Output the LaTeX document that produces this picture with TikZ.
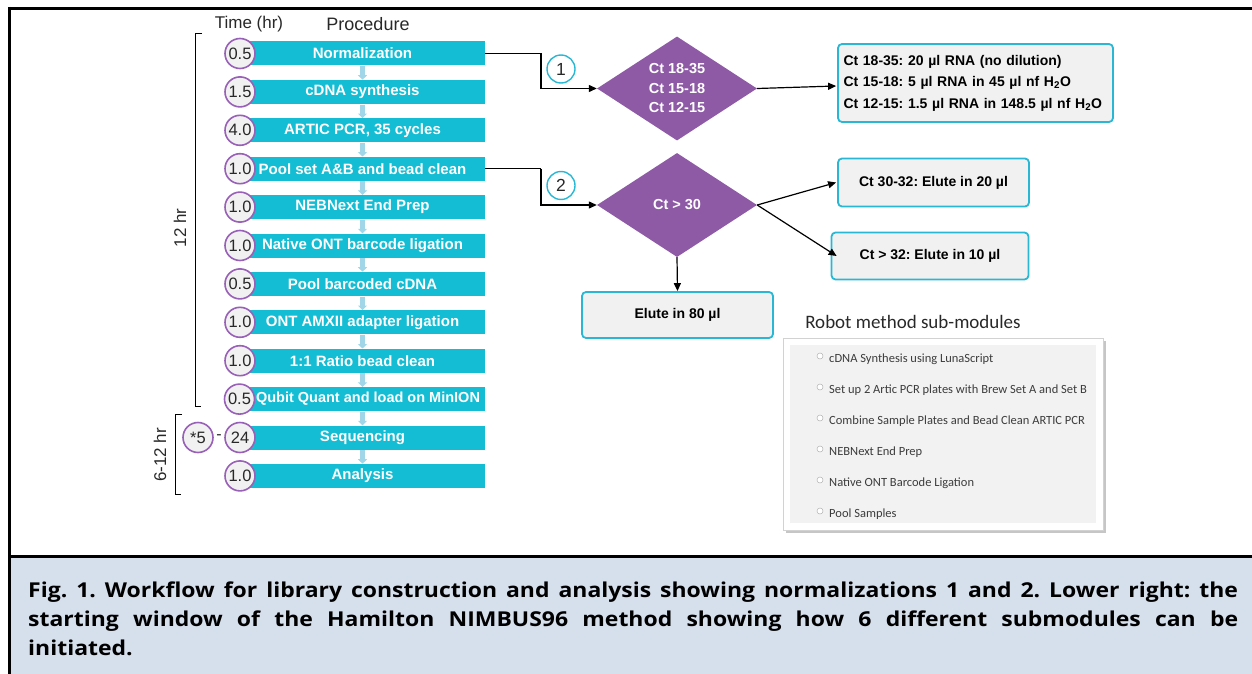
\documentclass[tikz,border=0pt]{standalone}
\usepackage{fontspec}
\setmainfont{Liberation Sans}
\newfontfamily\capfont{Open Sans}[FakeStretch=1.12]
\newfontfamily\uifont{Carlito}
\usetikzlibrary{arrows.meta,shapes.geometric,calc}
\definecolor{barcyan}{RGB}{20,189,211}
\definecolor{boxcyan}{RGB}{40,184,212}
\definecolor{circpurple}{RGB}{152,96,182}
\definecolor{diapurple}{RGB}{142,90,166}
\definecolor{boxgray}{RGB}{241,241,241}
\definecolor{capbg}{RGB}{214,223,236}
\definecolor{smallblue}{RGB}{160,214,232}
\definecolor{txtgray}{RGB}{40,40,40}
\definecolor{uitext}{RGB}{60,60,60}
\tikzset{
  bar/.style={rectangle, minimum width=245pt, minimum height=24pt, inner sep=0pt,
    fill=barcyan, text=white, font=\bfseries\fontsize{15}{18}\selectfont},
  timec/.style={circle, minimum size=30pt, inner sep=0pt, draw=circpurple, line width=1.6pt,
    fill=boxgray, text=txtgray, font=\fontsize{16.5}{18}\selectfont},
  numc/.style={circle, minimum size=28pt, inner sep=0pt, draw=boxcyan, line width=1.4pt,
    fill=white, text=txtgray, font=\fontsize{17.5}{18}\selectfont},
  smallarr/.style={smallblue, line width=4.5pt, -{Triangle[length=4.5pt,width=9pt]}},
  dia/.style={diamond, aspect=1.54, minimum width=160pt, minimum height=104pt, inner sep=0pt,
    fill=diapurple, text=white, align=center, font=\bfseries\fontsize{14.5}{19.5}\selectfont},
  rbox/.style={rectangle, rounded corners=4pt, draw=boxcyan, line width=1.8pt, fill=boxgray,
    font=\bfseries\fontsize{14}{21.5}\selectfont, inner sep=0pt},
  conn/.style={black, line width=1.2pt, -{Triangle[length=8pt,width=7pt]}},
  plain/.style={black, line width=1.2pt},
  head/.style={text=txtgray, inner sep=0pt},
  item/.style={anchor=west, inner sep=0pt, text=uitext, font=\uifont\fontsize{12.5}{14}\selectfont},
  radio/.style={circle, draw=gray!60, fill=white, line width=0.5pt, minimum size=6pt, inner sep=0pt},
  frameline/.style={black, line width=3pt}
}
\begin{document}
\frenchspacing
\begin{tikzpicture}[x=1pt,y=-1pt]
\useasboundingbox (0,0) rectangle (1252,674);
% caption background and frame
\fill[capbg] (10,557) rectangle (1252,674);
\draw[frameline] (8.5,8.5) -- (1252,8.5);
\draw[frameline] (9.8,7) -- (9.8,674);
\draw[frameline] (9.8,556.5) -- (1252,556.5);

% headers
\node[head, font=\fontsize{17}{20}\selectfont] (hTime) at (249,24) {Time (hr)};
\node[head, font=\fontsize{18}{20}\selectfont] (hProc) at (368,24) {Procedure};

% brackets
\draw[black, line width=1.2pt] (202,33.5) -- (195.5,33.5) -- (195.5,406.5) -- (201,406.5);
\node[head, rotate=90, font=\fontsize{17}{20}\selectfont] (l12) at (180,228) {12 hr};
\draw[black, line width=1.2pt] (182,414.5) -- (175.5,414.5) -- (175.5,494.5) -- (181,494.5);
\node[head, rotate=90, font=\fontsize{17}{20}\selectfont] (l612) at (160,455) {6-12 hr};

% bars
\node[bar] (b1) at (362.5,53.5) {Normalization};
\node[bar] (b2) at (362.5,91.9) {cDNA synthesis};
\node[bar] (b3) at (362.5,130.3) {ARTIC PCR, 35 cycles};
\node[bar] (b4) at (362.5,168.7) {Pool set A\&B and bead clean};
\node[bar] (b5) at (362.5,207.1) {NEBNext End Prep};
\node[bar] (b6) at (362.5,245.5) {Native ONT barcode ligation};
\node[bar] (b7) at (362.5,283.9) {Pool barcoded cDNA};
\node[bar] (b8) at (362.5,322.3) {ONT AMXII adapter ligation};
\node[bar] (b9) at (362.5,360.7) {1:1 Ratio bead clean};
\node[bar] (b10) at (362.5,399.1) {};
\node[text=white, inner sep=0pt, font=\bfseries\fontsize{14.5}{18}\selectfont] (b10t) at (368,399.1) {Qubit Quant and load on MinION};
\node[bar] (b11) at (362.5,437.5) {Sequencing};
\node[bar] (b12) at (362.5,475.9) {Analysis};

% small arrows between bars
\foreach \i [evaluate=\i as \j using int(\i+1)] in {1,...,11}{
  \draw[smallarr] ($(b\i.south)+(0,0.5)$) -- ($(b\j.north)+(0,0)$);
}

% time circles
\node[timec] (t1) at (240,53.5) {0.5};
\node[timec] (t2) at (240,91.9) {1.5};
\node[timec] (t3) at (240,130.3) {4.0};
\node[timec] (t4) at (240,168.7) {1.0};
\node[timec] (t5) at (240,207.1) {1.0};
\node[timec] (t6) at (240,245.5) {1.0};
\node[timec] (t7) at (240,283.9) {0.5};
\node[timec] (t8) at (240,322.3) {1.0};
\node[timec] (t9) at (240,360.7) {1.0};
\node[timec] (t10) at (239.5,399.1) {0.5};
\node[timec] (t11) at (240,437.5) {24};
\node[timec] (t12) at (240,475.9) {1.0};
\node[timec] (t0) at (198,437.5) {*5};
\node[head, font=\fontsize{16}{18}\selectfont] (dash) at (219,437.5) {-};

% diamonds
\node[dia] (d1) at (677,88.5) {Ct 18-35\\Ct 15-18\\Ct 12-15};
\node[dia] (d2) at (677,205) {Ct > 30};

% connectors to diamonds
\coordinate (k1) at (541,53.5);
\coordinate (k2) at (541,168.7);
\draw[plain] (b1.east) -- (k1);
\draw[conn] (k1) |- (d1.west);
\draw[plain] (b4.east) -- (k2);
\draw[conn] (k2) |- (d2.west);
\node[numc] (n1) at (561,69) {1};
\node[numc] (n2) at (561,185.5) {2};

% result boxes
\node[rbox, minimum width=275pt, minimum height=78pt, text width=264pt, align=left] (r1) at (975.5,83)
  {Ct 18-35: 20 µl RNA (no dilution)\\Ct 15-18: 5 µl RNA in 45 µl nf H\textsubscript{2}O\\Ct 12-15: 1.5 µl RNA in 148.5 µl nf H\textsubscript{2}O};
\node[rbox, minimum width=191pt, minimum height=48pt] (r2) at (933.5,182.5) {Ct 30-32: Elute in 20 µl};
\node[rbox, minimum width=197pt, minimum height=47pt] (r3) at (930,256) {Ct > 32: Elute in 10 µl};
\node[rbox, minimum width=191pt, minimum height=46pt] (r4) at (677.5,315) {Elute in 80 µl};

\draw[conn] (d1.east) -- ($(r1.west)+(-1,3)$);
\draw[conn] (d2.east) -- ($(r2.west)+(-1,0)$);
\draw[conn] (d2.east) -- ($(r3.west)+(6,0)$);
\draw[conn] (d2.south) -- (r4.north);

% robot panel
\node[head, font=\uifont\fontsize{19}{22}\selectfont] (rtitle) at (913,322) {Robot method sub-modules};
\fill[gray!45] (786,341) rectangle (1106,533);
\node[rectangle, draw=gray!35, fill=white, minimum width=320pt, minimum height=192pt, inner sep=0pt] (panel) at (943,434) {};
\fill[black!5] (790,345) rectangle (1096,523);
\foreach \y/\t [count=\k] in {359/cDNA Synthesis using LunaScript,
  390/Set up 2 Artic PCR plates with Brew Set A and Set B,
  421/Combine Sample Plates and Bead Clean ARTIC PCR,
  452/NEBNext End Prep,
  483/Native ONT Barcode Ligation,
  514/Pool Samples}{
  \node[radio] (rad\k) at (820,\y-3) {};
  \node[item] (it\k) at (829,\y) {\t};
}

% caption
\node[anchor=north west, text width=1210pt, align=justify, inner sep=0pt,
  font=\capfont\bfseries\fontsize{20.5}{29}\selectfont, text=black] (cap) at (28,582)
  {Fig. 1. Workflow for library construction and analysis showing normalizations 1 and 2. Lower right: the\linebreak starting window of the Hamilton NIMBUS96 method showing how 6 different submodules can be\linebreak initiated.};
\end{tikzpicture}
\end{document}
